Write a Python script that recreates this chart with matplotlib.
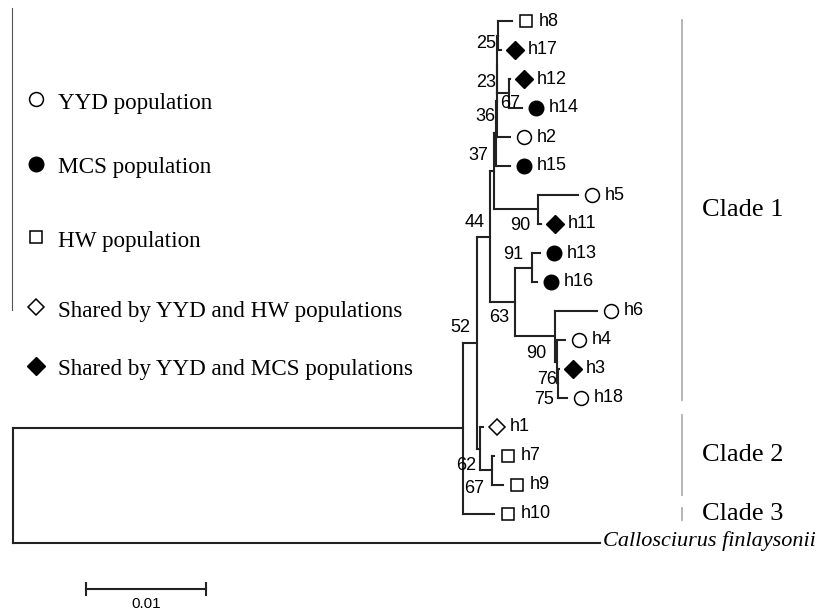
import re
import matplotlib.pyplot as plt
from matplotlib.transforms import offset_copy

# haplotype tree (branch lengths = substitutions/site, bootstrap values as node labels)
newick = ("(((((((((h8:0.00117,h17:0.00025)25:0.00004,(h12:0.00008,h14:0.00108)67:0.00096)23:0.00004,"
          "h2:0.00108)36:0.00004,h15:0.00113)37:0.00021,(h5:0.00333,h11:0.00025)90:0.00367):0.00033,"
          "((h13:0.00067,h16:0.00042)91:0.00142,(h6:0.0035,(h4:0.00067,(h3:0.00008,h18:0.00075)75:0.00008)76:0.00017)90:0.00333)63:0.00208)44:0.00108,"
          "(h1:0.00025,(h7:0.00017,h9:0.00092)67:0.001)62:0.00025)52:0.00117,h10:0.00258):0.0375,"
          "Callosciurus finlaysonii:0.04892);")

yyd = ["h2", "h4", "h5", "h6", "h18"]
mcs = ["h13", "h14", "h15", "h16"]
hw = ["h7", "h8", "h9", "h10"]
shared_yyd_hw = ["h1"]
shared_yyd_mcs = ["h3", "h11", "h12", "h17"]

legend_labels = ["YYD population", "MCS population", "HW population",
                 "Shared by YYD and HW populations", "Shared by YYD and MCS populations"]
clade_names = ["Clade 1", "Clade 2", "Clade 3"]
clade_tips = [("h8", "h18"), ("h1", "h9"), ("h10", "h10")]
scale_len = 0.01

# layout (pixels)
X0, PXU, Y0, ROW = 13, 12000, 21, 29
# bootstrap label offsets, post-order of labelled nodes
boot_off = [(-12, 8), (1, 10), (-11, 18), (-12, 16), (-18, 22), (-18, 16), (-19, -13),
            (-14, 16), (-10, 18), (-19, 17), (-16, 16), (-15, -14), (-18, 18), (-14, 17), (-17, -15)]
clade_pad = [(1, 2), (12, 10), (6, 6)]
legend_y = [99, 164, 237, 307, 366]

styles = {}
for n in yyd:
    styles[n] = dict(marker="o", ms=10, mfc="white", mec="black", mew=1.1)
for n in mcs:
    styles[n] = dict(marker="o", ms=10.5, mfc="black", mec="black", mew=1)
for n in hw:
    styles[n] = dict(marker="s", ms=8.8, mfc="white", mec="black", mew=1.1)
for n in shared_yyd_hw:
    styles[n] = dict(marker="D", ms=8.2, mfc="white", mec="black", mew=1.1)
for n in shared_yyd_mcs:
    styles[n] = dict(marker="D", ms=8.8, mfc="black", mec="black", mew=1)


def parse(s):
    pos = 0

    def node():
        nonlocal pos
        kids = []
        if s[pos] == "(":
            pos += 1
            kids.append(node())
            while s[pos] == ",":
                pos += 1
                kids.append(node())
            pos += 1
        m = re.match(r"([^:,();]*)(?::([\d.]+))?", s[pos:])
        pos += m.end()
        return {"name": m.group(1), "len": float(m.group(2) or 0), "kids": kids}

    return node()


tree = parse(newick)
tips, labelled = [], []


def place(nd, x):
    nd["x"] = x + nd["len"]
    if not nd["kids"]:
        nd["y"] = len(tips)
        tips.append(nd)
        return
    for k in nd["kids"]:
        place(k, nd["x"])
    nd["y"] = (nd["kids"][0]["y"] + nd["kids"][-1]["y"]) / 2
    if nd["name"]:
        labelled.append(nd)


tree["len"] = 0
place(tree, 0)

fig = plt.figure(figsize=(8.24, 6.16), dpi=100)
ax = fig.add_axes([0, 0, 1, 1])
ax.set_xlim(-X0 / PXU, (824 - X0) / PXU)
ax.set_ylim((616 - Y0) / ROW, -Y0 / ROW)
ax.axis("off")

lc = "#222222"
lw = 1.5


def draw(nd):
    if not nd["kids"]:
        return
    ax.plot([nd["x"], nd["x"]], [nd["kids"][0]["y"], nd["kids"][-1]["y"]],
            color=lc, lw=lw, solid_capstyle="projecting")
    for k in nd["kids"]:
        ax.plot([nd["x"], k["x"]], [k["y"], k["y"]], color=lc, lw=lw, solid_capstyle="projecting")
        draw(k)


draw(tree)

sans = "Liberation Sans"
serif = "Liberation Serif"
mark_tr = offset_copy(ax.transData, fig=fig, x=14, y=0, units="dots")
for t in tips:
    if t["name"] in styles:
        ax.plot(t["x"], t["y"], transform=mark_tr, ls="none", **styles[t["name"]])
        ax.annotate(t["name"], (t["x"], t["y"]), xytext=(27, 0), textcoords="offset pixels",
                    ha="left", va="center", fontsize=13, family=sans)
    else:
        ax.annotate(t["name"], (t["x"], t["y"]), xytext=(3, -3), textcoords="offset pixels",
                    ha="left", va="baseline", fontsize=16, family=serif, style="italic")

for nd, (dx, dy) in zip(labelled, boot_off):
    ax.annotate(nd["name"], (nd["x"], nd["y"]), xytext=(dx, -dy), textcoords="offset pixels",
                ha="center", va="center", fontsize=13, family=sans)

# scale bar
sx, sy = (86 - X0) / PXU, (589 - Y0) / ROW
ax.plot([sx, sx + scale_len], [sy, sy], color=lc, lw=lw)
for xx in (sx, sx + scale_len):
    ax.plot([xx, xx], [sy - 6 / ROW, sy + 6 / ROW], color=lc, lw=lw)
ax.annotate(f"{scale_len:g}", (sx + scale_len / 2, sy), xytext=(0, -15), textcoords="offset pixels",
            ha="center", va="center", fontsize=11, family=sans)

# clade bars
by_name = {t["name"]: t for t in tips}
for name, (a, b), (pt, pb) in zip(clade_names, clade_tips, clade_pad):
    y1 = by_name[a]["y"] - pt / ROW
    y2 = by_name[b]["y"] + pb / ROW
    bx = (682 - X0) / PXU
    ax.plot([bx, bx], [y1, y2], color="#b0b0b0", lw=1.3)
    ax.text((702 - X0) / PXU, (y1 + y2) / 2, name, ha="left", va="center", fontsize=19, family=serif)

# legend and stray rule at left, in pixel coordinates
lay = fig.add_axes([0, 0, 1, 1])
lay.set_xlim(0, 824)
lay.set_ylim(616, 0)
lay.axis("off")
lay.plot([12, 12], [8, 310], color="#555555", lw=0.8)
leg_styles = [styles[yyd[0]], styles[mcs[0]], styles[hw[0]], styles[shared_yyd_hw[0]], styles[shared_yyd_mcs[0]]]
for st, lab, yy in zip(leg_styles, legend_labels, legend_y):
    lay.plot(36, yy, ls="none", **st)
    lay.text(58, yy + 4, lab, ha="left", va="center", fontsize=16.7, family=serif)

fig.savefig("out.png", dpi=100)
